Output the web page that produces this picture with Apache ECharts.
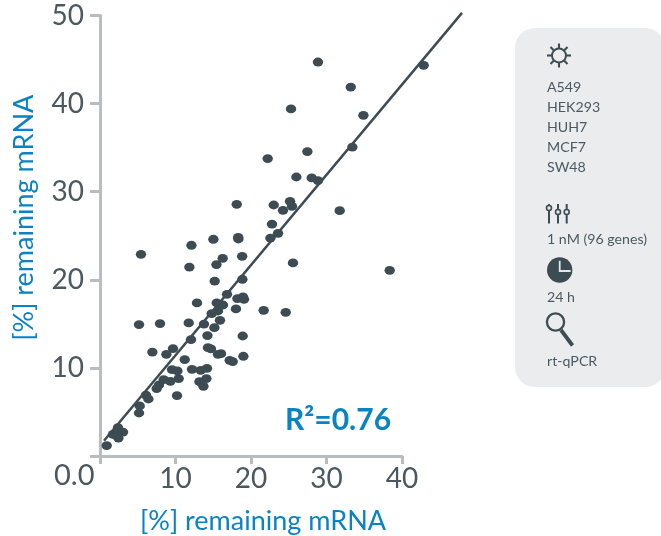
<!DOCTYPE html>
<html><head><meta charset="utf-8">
<style>html,body{margin:0;padding:0;background:#fff}#c{width:661px;height:536px}</style>
<script src="https://cdn.jsdelivr.net/npm/echarts@6/dist/echarts.min.js"></script>
</head><body><div id="c"></div>
<script>
const xValues=[28.87,33.21,42.87,25.30,34.89,33.43,27.47,22.21,26.01,28.04,28.87,18.11,23.01,25.17,25.43,24.24,31.75,22.78,23.58,22.57,18.30,18.33,18.83,25.56,38.37,5.43,12.11,15.02,11.84,15.42,16.25,15.19,18.86,16.82,18.20,18.94,19.07,12.85,15.46,16.29,18.01,15.63,14.79,5.17,7.95,11.75,13.77,15.89,15.15,14.23,18.90,12.05,14.30,14.70,9.67,6.94,8.79,15.63,16.03,18.99,11.22,17.18,17.58,9.54,10.25,12.19,13.34,14.17,8.44,9.32,10.42,14.09,13.17,13.70,7.81,7.51,10.20,6.09,6.41,5.26,5.17,2.38,3.05,1.72,2.44,2.17,0.89,21.68,24.60];
const yValues=[44.72,41.88,44.35,39.39,38.67,35.07,34.55,33.76,31.67,31.56,31.26,28.57,28.49,28.91,28.34,27.89,27.85,26.33,25.28,24.74,24.82,24.63,22.67,21.91,21.08,22.89,23.92,24.60,21.45,21.73,22.44,19.86,20.06,18.35,17.87,18.05,17.79,17.37,17.37,17.14,16.69,16.46,16.16,14.92,15.03,15.10,14.98,15.40,14.57,13.67,13.62,13.21,12.30,12.15,12.19,11.80,11.54,11.54,11.62,11.32,10.94,10.86,10.72,9.81,9.65,9.84,9.73,9.95,8.67,8.48,8.79,8.79,8.44,7.91,8.06,7.65,6.86,6.92,6.47,5.68,4.88,3.22,2.72,2.46,2.04,2.35,1.18,16.54,16.31];
const fitLine=[[0.53,1.73],[47.95,50.3]];
const cellLines=["A549","HEK293","HUH7","MCF7","SW48"];
const axisTitle="[%] remaining mRNA";
const r2Label="R²=0.76";
const doseLabel="1 nM (96 genes)";
const timeLabel="24 h";
const methodLabel="rt-qPCR";

const INK="#3d4c53",BLUE="#0a82c6",AXIS="#b9bcc0",PANEL="#ebecee",TXT="#4b5a62",TICKTXT="#4a585f";
const FONT="Lato, Carlito, 'Open Sans', sans-serif";
function label(x,y,text){return{type:'text',x,y,style:{text,font:"14.2px "+FONT,fill:TXT,textVerticalAlign:'middle'},z:5};}
const sunSpikes=[];
for(let i=0;i<8;i++){const a=i*Math.PI/4;sunSpikes.push({type:'line',shape:{x1:559+Math.sin(a)*6.5,y1:55.5-Math.cos(a)*6.5,x2:559+Math.sin(a)*12,y2:55.5-Math.cos(a)*12},style:{stroke:INK,lineWidth:2.1},z:5});}
function slider(x,ky){return[
 {type:'line',shape:{x1:x,y1:204,x2:x,y2:223.5},style:{stroke:INK,lineWidth:2},z:5},
 {type:'circle',shape:{cx:x,cy:ky,r:2.5},style:{fill:PANEL,stroke:INK,lineWidth:1.6},z:6}];}
const hiddenAxis={show:false,type:'value',splitLine:{show:false}};
const plotW=302,plotH=440.5;
const option={
 animation:false,
 grid:[
  {left:100,width:plotW,top:15.5,height:plotH,outerBoundsMode:'none'},
  {left:100,width:plotW*48/40,top:15.5-plotH*1/50,height:plotH*51/50,show:false,outerBoundsMode:'none'}
 ],
 xAxis:[{type:'value',min:0,max:40,interval:10,splitLine:{show:false},
  axisLine:{show:true,onZero:false,lineStyle:{color:AXIS,width:3}},
  axisTick:{show:true,length:8,lineStyle:{color:AXIS,width:3}},
  axisLabel:{fontFamily:FONT,fontSize:28,color:TICKTXT,margin:9,formatter:v=>v===0?'':String(v)},
  name:axisTitle,nameLocation:'middle',nameGap:52,
  nameTextStyle:{fontFamily:FONT,fontSize:27,color:BLUE,padding:[0,0,0,24]}},
  {...hiddenAxis,gridIndex:1,min:0,max:48}],
 yAxis:[{type:'value',min:0,max:50,interval:10,splitLine:{show:false},
  axisLine:{show:true,onZero:false,lineStyle:{color:AXIS,width:3}},
  axisTick:{show:true,length:10,lineStyle:{color:AXIS,width:3}},
  axisLabel:{fontFamily:FONT,fontSize:28,color:TICKTXT,margin:16,padding:[6,0,0,0],formatter:v=>v===0?'':String(v)},
  name:axisTitle,nameLocation:'middle',nameGap:62,nameRotate:90,
  nameTextStyle:{fontFamily:FONT,fontSize:27,color:BLUE,padding:[0,0,0,36]}},
  {...hiddenAxis,gridIndex:1,min:0,max:51}],
 series:[
  {type:'line',xAxisIndex:1,yAxisIndex:1,data:fitLine,symbol:'none',silent:true,z:2,lineStyle:{color:INK,width:2.5}},
  {type:'scatter',data:xValues.map((x,i)=>[x,yValues[i]]),clip:false,symbol:'circle',symbolSize:[10.4,8.8],z:3,itemStyle:{color:INK,opacity:1}}
 ],
 graphic:[
  {type:'text',x:54,y:476,style:{text:'0.0',font:"29px "+FONT,fill:TICKTXT,textVerticalAlign:'middle'},z:5},
  {type:'text',x:285,y:420,style:{text:r2Label,font:"bold 30px "+FONT,fill:BLUE,textVerticalAlign:'middle'},z:5},
  {type:'rect',shape:{x:515,y:28,width:150,height:359,r:20},style:{fill:PANEL},z:1},
  {type:'circle',shape:{cx:559,cy:55.5,r:7},style:{fill:'none',stroke:INK,lineWidth:1.9},z:5},
  ...sunSpikes,
  ...cellLines.map((t,i)=>label(547,87+i*20,t)),
  ...slider(549,208),...slider(558,212),...slider(566.7,212),
  label(547,239.5,doseLabel),
  {type:'circle',shape:{cx:559.7,cy:270,r:12.7},style:{fill:INK},z:5},
  {type:'polyline',shape:{points:[[559.7,260.7],[559.7,271],[570.7,271]]},style:{fill:'none',stroke:'#e4e6e8',lineWidth:1.8},z:6},
  label(547,297,timeLabel),
  {type:'circle',shape:{cx:555.5,cy:322,r:8.6},style:{fill:'none',stroke:INK,lineWidth:2.3},z:5},
  {type:'line',shape:{x1:561,y1:330,x2:572.5,y2:345.5},style:{stroke:INK,lineWidth:3.8},z:5},
  label(547,361,methodLabel)
 ]
};
echarts.init(document.getElementById('c'),null,{renderer:'canvas'}).setOption(option);
</script></body></html>
